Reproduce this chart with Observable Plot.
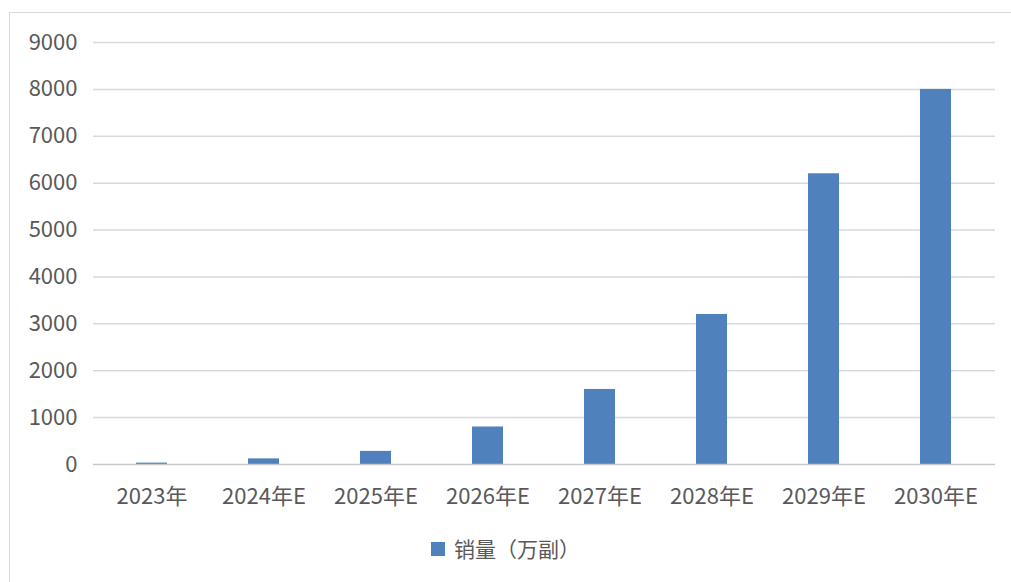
<!DOCTYPE html>
<html>
<head>
<meta charset="utf-8">
<script src="https://cdn.jsdelivr.net/npm/d3@7"></script>
<script src="https://cdn.jsdelivr.net/npm/@observablehq/plot@0.6"></script>
<style>
  html, body { margin: 0; padding: 0; background: #fff; }
  body { width: 1011px; height: 582px; position: relative; overflow: hidden; font-family: "Noto Sans CJK SC", "Noto Sans", sans-serif; }
  #frame { position: absolute; left: 9px; top: 12px; width: 1010px; height: 580px; border-left: 1.5px solid #d9d9d9; border-top: 1.5px solid #d9d9d9; }
  #chart { position: absolute; left: 0; top: 0; }
  #legend { position: absolute; left: 0; width: 1011px; top: 533px; text-align: center; font-size: 21px; color: #595959; }
  #legend .sw { display: inline-block; width: 14px; height: 14px; background: #4F81BD; margin-right: 9px; vertical-align: middle; position: relative; top: -2px; }
</style>
</head>
<body>
<div id="frame"></div>
<div id="chart"></div>
<div id="legend"><span class="sw"></span><span>销量（万副）</span></div>
<script>
const years = ["2023年", "2024年E", "2025年E", "2026年E", "2027年E", "2028年E", "2029年E", "2030年E"];
const sales = [30, 120, 280, 800, 1600, 3200, 6200, 8000];
const yTicks = [0, 1000, 2000, 3000, 4000, 5000, 6000, 7000, 8000, 9000];
const seriesName = "销量（万副）";

const data = years.map((y, i) => ({year: y, value: sales[i]}));

const plot = Plot.plot({
  width: 1011,
  height: 510,
  marginLeft: 93,
  marginRight: 16,
  marginTop: 42,
  marginBottom: 46,
  style: {fontFamily: '"Noto Sans CJK SC", "Noto Sans", sans-serif', fontSize: "22px", color: "#595959", background: "transparent", overflow: "visible"},
  x: {domain: years, paddingInner: 0.72, paddingOuter: 0.36, label: null, tickSize: 0, tickPadding: 24},
  y: {domain: [0, 9000], ticks: yTicks, label: null, tickSize: 0, tickPadding: 16, tickFormat: d => String(d)},
  marks: [
    Plot.ruleY(yTicks.filter(d => d > 0), {stroke: "#d9d9d9", strokeWidth: 1.5}),
    Plot.barY(data, {x: "year", y: "value", fill: "#4F81BD"}),
    Plot.ruleY([0], {stroke: "#c8c8c8", strokeWidth: 1.5})
  ]
});
plot.querySelectorAll("text").forEach(t => t.setAttribute("fill", "#595959"));
document.getElementById("chart").appendChild(plot);
</script>
</body>
</html>
